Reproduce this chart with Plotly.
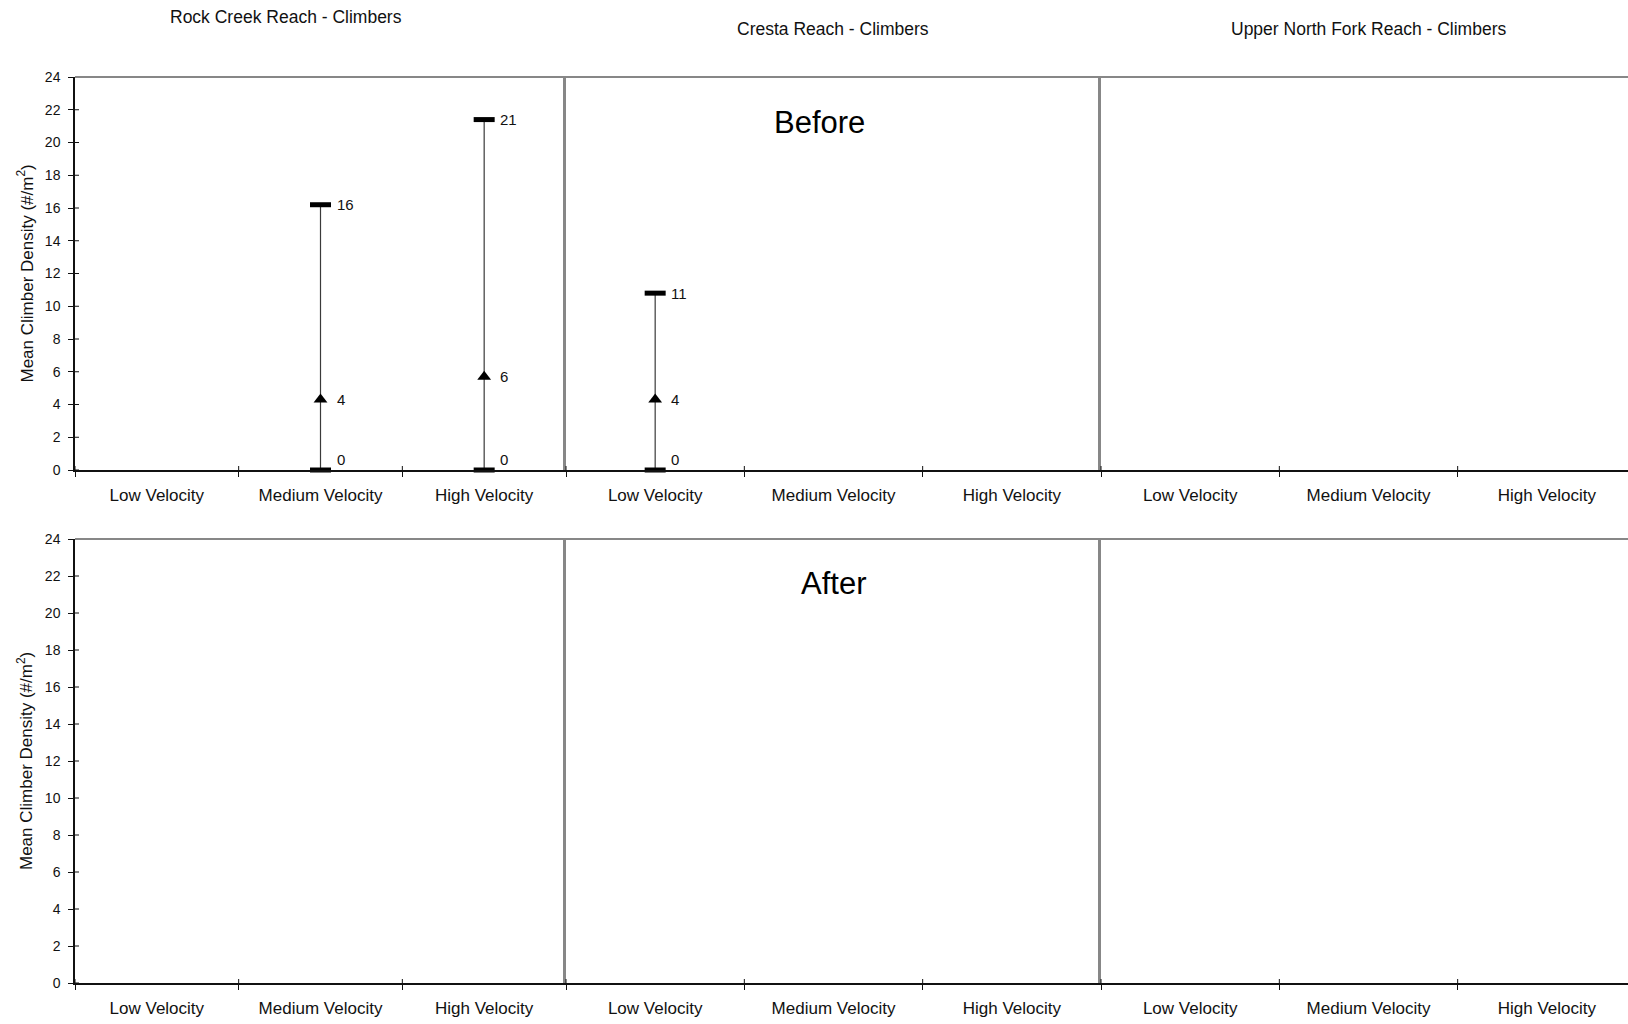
import plotly.graph_objects as go

# ---------------- data ----------------
categories = ["Low Velocity", "Medium Velocity", "High Velocity"]
reach_titles = ["Rock Creek Reach - Climbers", "Cresta Reach - Climbers", "Upper North Fork Reach - Climbers"]
period_labels = ["Before", "After"]
y_ticks = [0, 2, 4, 6, 8, 10, 12, 14, 16, 18, 20, 22, 24]
y_title = "Mean Climber Density (#/m<sup>2</sup>)"

# Before
rock_before_min = [None, 0.0, 0.0]
rock_before_mean = [None, 4.3, 5.7]
rock_before_max = [None, 16.2, 21.4]
cresta_before_min = [0.0, None, None]
cresta_before_mean = [4.3, None, None]
cresta_before_max = [10.8, None, None]
upper_before_min = [None, None, None]
upper_before_mean = [None, None, None]
upper_before_max = [None, None, None]

# After (no data)
rock_after_min = [None, None, None]
rock_after_mean = [None, None, None]
rock_after_max = [None, None, None]
cresta_after_min = [None, None, None]
cresta_after_mean = [None, None, None]
cresta_after_max = [None, None, None]
upper_after_min = [None, None, None]
upper_after_mean = [None, None, None]
upper_after_max = [None, None, None]

panels = [
    [(rock_before_min, rock_before_mean, rock_before_max),
     (cresta_before_min, cresta_before_mean, cresta_before_max),
     (upper_before_min, upper_before_mean, upper_before_max)],
    [(rock_after_min, rock_after_mean, rock_after_max),
     (cresta_after_min, cresta_after_mean, cresta_after_max),
     (upper_after_min, upper_after_mean, upper_after_max)],
]

# ---------------- layout geometry ----------------
W, H = 1628, 1024
col_px = [(75, 566), (566, 1101), (1101, 1628)]
col_catw = [(566 - 75) / 3, (1101 - 566) / 3, (1101 - 566) / 3]
row_px = [(77, 470), (539, 983)]
FONT = "Liberation Sans, Arial, sans-serif"
GRAY = "#878787"
TICK_IN = 4  # inner half of the crossing tick marks, px

fig = go.Figure()
layout = dict(
    width=W, height=H, margin=dict(l=0, r=0, t=0, b=0, pad=0, autoexpand=False),
    paper_bgcolor="white", plot_bgcolor="white", autosize=False,
    showlegend=False, font=dict(family=FONT, color="#000"),
)
annotations = []
shapes = []

centers = [i + 0.5 for i in range(len(categories))]
bounds = list(range(len(categories) + 1))

for r in range(2):
    ytop, ybot = row_px[r]
    ydom = [1 - ybot / H, 1 - ytop / H]
    row_h = ybot - ytop
    for c in range(3):
        idx = r * 3 + c + 1
        x0, x1 = col_px[c]
        xdom = [x0 / W, x1 / W]
        xmax = (x1 - x0) / col_catw[c]
        xa = "x" if idx == 1 else f"x{idx}"
        ya = "y" if idx == 1 else f"y{idx}"
        xkey = "xaxis" if idx == 1 else f"xaxis{idx}"
        ykey = "yaxis" if idx == 1 else f"yaxis{idx}"
        layout[xkey] = dict(
            domain=xdom, anchor=ya, range=[0, xmax],
            tickmode="array", tickvals=centers, ticktext=categories,
            ticks="", ticklen=0, showline=True, linecolor="#111", linewidth=1.5,
            showgrid=False, zeroline=False, ticklabelstandoff=9,
            tickfont=dict(size=17, family=FONT, color="#111"),
            minor=dict(tickmode="array", tickvals=bounds, ticks="outside", ticklen=5,
                       tickcolor="#111", tickwidth=1, showgrid=False),
            automargin=False, fixedrange=True,
        )
        # inner half of crossing category-boundary ticks
        for b in bounds:
            if b <= xmax:
                shapes.append(dict(type="line", xref=xa, yref=f"{ya} domain",
                                   x0=b, x1=b, y0=0, y1=TICK_IN / row_h,
                                   line=dict(color="#111", width=1), layer="above"))
        if c == 0:
            layout[ykey] = dict(
                domain=ydom, anchor=xa, range=[0, 24],
                tickmode="array", tickvals=y_ticks, ticks="outside", ticklen=5,
                tickcolor="#111", showline=True, linecolor="#111", linewidth=1.5,
                showgrid=False, zeroline=False, ticklabelstandoff=5,
                tickfont=dict(size=14, family=FONT, color="#111"),
                automargin=False, fixedrange=True,
            )
            for t in y_ticks:
                shapes.append(dict(type="line", xref=f"{xa} domain", yref=ya,
                                   x0=0, x1=TICK_IN / (x1 - x0), y0=t, y1=t,
                                   line=dict(color="#111", width=1), layer="above"))
        else:
            layout[ykey] = dict(
                domain=ydom, anchor=xa, range=[0, 24],
                showticklabels=False, ticks="", showline=True, linecolor=GRAY,
                linewidth=3, showgrid=False, zeroline=False,
                automargin=False, fixedrange=True,
            )
        # keep each subplot alive even when it has no data
        fig.add_trace(go.Scatter(x=[None], y=[None], xaxis=xa, yaxis=ya,
                                 mode="markers", hoverinfo="skip"))

        mins, means, maxs = panels[r][c]
        for i, cx in enumerate(centers):
            if maxs[i] is None:
                continue
            fig.add_trace(go.Scatter(
                x=[cx, cx], y=[mins[i], maxs[i]], mode="lines",
                line=dict(color="#3a3a3a", width=1.2), xaxis=xa, yaxis=ya, hoverinfo="skip"))
            fig.add_trace(go.Scatter(
                x=[cx, cx], y=[mins[i], maxs[i]], mode="markers",
                marker=dict(symbol="line-ew", size=15, line=dict(color="black", width=5)),
                xaxis=xa, yaxis=ya, cliponaxis=False, hoverinfo="skip"))
            fig.add_trace(go.Scatter(
                x=[cx], y=[means[i]], mode="markers",
                marker=dict(symbol="triangle-up", size=12, color="black"),
                xaxis=xa, yaxis=ya, cliponaxis=False, hoverinfo="skip"))
            for v in (mins[i], means[i], maxs[i]):
                annotations.append(dict(
                    x=cx, y=v, xref=xa, yref=ya, text=f"{v:.0f}", showarrow=False,
                    xanchor="left", yanchor="middle", xshift=14, yshift=11 if v == 0 else 0,
                    font=dict(size=15, family=FONT, color="#111")))

    # top border of the row
    shapes.append(dict(type="line", xref="paper", yref=("y" if r == 0 else "y4") + " domain",
                       x0=col_px[0][0] / W, x1=1, y0=1, y1=1,
                       line=dict(color=GRAY, width=2)))
    # y axis title
    annotations.append(dict(
        x=25 / W, y=1 - (ytop + ybot) / 2 / H, xref="paper", yref="paper", text=y_title,
        textangle=-90, showarrow=False, xanchor="center", yanchor="middle",
        font=dict(size=17, family=FONT, color="#111")))

# reach titles
title_pos = [(286, 17), (833, 29), (1368, 29)]
for t, (tx, ty) in zip(reach_titles, title_pos):
    annotations.append(dict(x=tx / W, y=1 - ty / H, xref="paper", yref="paper", text=t,
                            showarrow=False, xanchor="center", yanchor="middle",
                            font=dict(size=17.5, family=FONT, color="#111")))
# period labels
period_pos = [(819, 122), (833, 583)]
for t, (tx, ty) in zip(period_labels, period_pos):
    annotations.append(dict(x=tx / W, y=1 - ty / H, xref="paper", yref="paper", text=t,
                            showarrow=False, xanchor="center", yanchor="middle",
                            font=dict(size=31, family=FONT, color="#000")))

layout["annotations"] = annotations
layout["shapes"] = shapes
fig.update_layout(**layout)
fig.write_html(
    "out.html",
    config={"displayModeBar": False},
    post_script=(
        "document.documentElement.style.margin='0';"
        "document.body.style.margin='0';document.body.style.overflow='hidden';"
        "var g=document.getElementsByClassName('plotly-graph-div')[0];"
        "g.style.position='fixed';g.style.top='0px';g.style.left='0px';"
    ),
)
